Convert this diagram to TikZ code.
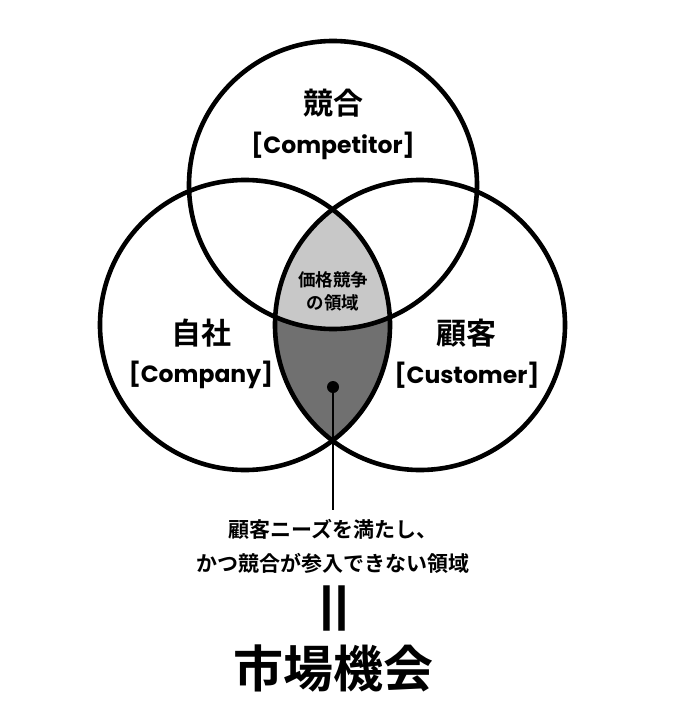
\documentclass[tikz,border=0pt]{standalone}
\usepackage{fontspec}
\setmainfont{Noto Sans CJK JP}[BoldFont={* Bold}]
\newfontfamily\latinfont{Poppins}
\usetikzlibrary{positioning}
\definecolor{lensdark}{HTML}{707070}
\definecolor{lenslight}{HTML}{C8C8C8}

\begin{document}
\begin{tikzpicture}[
    x=1pt, y=-1pt,
    ring/.style={draw=black, line width=4.6pt},
    setname/.style={font=\bfseries\fontsize{30}{30}\selectfont, inner sep=0pt},
    setsub/.style={font=\latinfont\bfseries\fontsize{23.5}{23.5}\selectfont, inner sep=0pt},
    lenslabel/.style={font=\bfseries\fontsize{17.5}{23}\selectfont, align=center, inner sep=0pt},
    note/.style={font=\bfseries\fontsize{21}{34}\selectfont, align=center, inner sep=0pt, inner ysep=9pt},
]
\useasboundingbox[fill=white] (0,0) rectangle (679,725);
\coordinate (cT) at (333,185);
\coordinate (cL) at (245,325);
\coordinate (cR) at (420,325);
% shaded lens
\begin{scope}
  \clip (cL) circle (145pt);
  \fill[lensdark] (cR) circle (145pt);
  \clip (cR) circle (145pt);
  \fill[lenslight] (cT) circle (144pt);
\end{scope}
\draw[ring] (cT) circle (144pt);
\draw[ring] (cL) circle (145pt);
\draw[ring] (cR) circle (145pt);

\node[setname] (comp) at (333,103) {競合};
\node[setsub] (compen) at (333,146) {[Competitor]};
\node[setname] (self) at (201,333) {自社};
\node[setsub] (selfen) at (201,375) {[Company]};
\node[setname] (cust) at (466,333) {顧客};
\node[setsub] (custen) at (467,375) {[Customer]};
\node[lenslabel] (price) at (333,291) {価格競争\\の領域};

\node[circle, fill=black, inner sep=0pt, minimum size=12pt] (spot) at (333,387) {};
\node[note] (needs) at (333,546) {顧客ニーズを満たし、\\かつ競合が参入できない領域};
\draw[line width=1.4pt] (spot.center) -- (needs.north);

\node[font=\bfseries\fontsize{64}{64}\selectfont, inner sep=0pt, rotate=90] (eq) at (342,608) {＝};
\node[font=\bfseries\fontsize{50}{50}\selectfont, inner sep=0pt] (chance) at (333,668) {市場機会};
\end{tikzpicture}
\end{document}
